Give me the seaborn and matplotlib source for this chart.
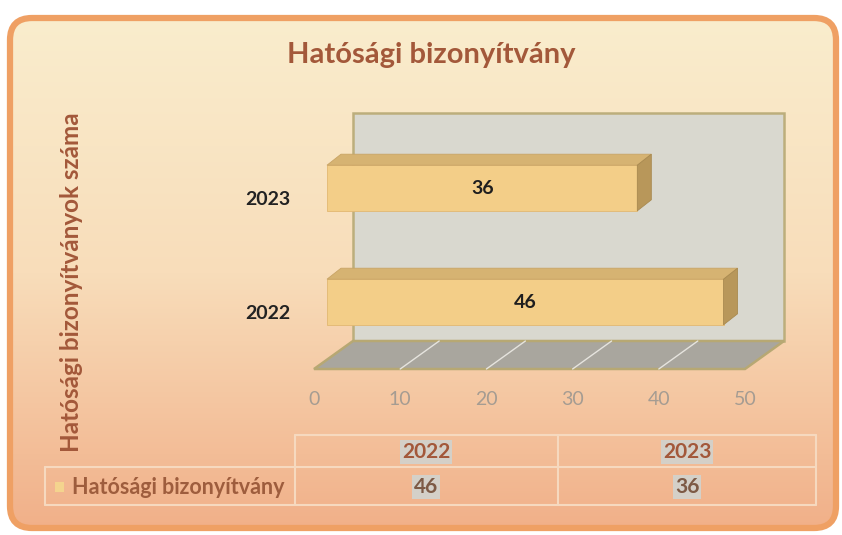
import numpy as np
import pandas as pd
import matplotlib
matplotlib.use("Agg")
import matplotlib.pyplot as plt
import seaborn as sns
from matplotlib.patches import FancyBboxPatch, Polygon, Rectangle
from matplotlib.colors import LinearSegmentedColormap
from matplotlib.transforms import ScaledTranslation

# data
years = ["2022", "2023"]
counts = [46, 36]
bar_order = ["2023", "2022"]
x_ticks = [0, 10, 20, 30, 40, 50]
title = "Hatósági bizonyítvány"
series_name = "Hatósági bizonyítvány"
y_title = "Hatósági bizonyítványok száma"

sns.set_theme(style="white")
plt.rcParams['font.family'] = ['Lato', 'DejaVu Sans']

W, H = 842, 535
fig = plt.figure(figsize=(W / 100, H / 100), dpi=100, facecolor="white")

def shift(px, py):
    return ScaledTranslation(px / fig.dpi, py / fig.dpi, fig.dpi_scale_trans)

# background frame with gradient (pixel coordinates)
bg = fig.add_axes([0, 0, 1, 1])
bg.set_xlim(0, W)
bg.set_ylim(H, 0)
bg.axis("off")
frame = FancyBboxPatch((10, 18), 826, 510, boxstyle="round,pad=0,rounding_size=22",
                       facecolor="none", edgecolor="#EFA064", lw=4.5, zorder=2)
bg.add_patch(frame)
cmap = LinearSegmentedColormap.from_list("bg", ["#FAEDCD", "#F8DDBA", "#F1B089"])
grad = np.linspace(0, 1, 256).reshape(-1, 1)
im = bg.imshow(grad, extent=[10, 836, 528, 18], cmap=cmap, aspect="auto", zorder=1)
im.set_clip_path(frame)

# main chart
ax = fig.add_axes([314 / W, (H - 369) / H, 431 / W, 228 / H])
ax.patch.set_alpha(0)
df = pd.DataFrame({"year": years, "count": counts})
sns.barplot(data=df, x="count", y="year", order=bar_order, orient="h", width=0.4,
            color="#F3CE88", saturation=1, edgecolor="#E2B872", linewidth=0.6, ax=ax)
bars = list(ax.patches)
ax.set_xlim(0, 50)
ax.set_ylim(1.5, -0.5)
ax.set_xticks(x_ticks)
ax.set_xlabel("")
ax.set_ylabel("")
ax.grid(False)
sns.despine(ax=ax, left=True, bottom=True)
ax.tick_params(axis="both", length=0, labelsize=14)
ax.tick_params(axis="y", pad=17, labelcolor="#222222")
ax.tick_params(axis="x", pad=16, labelcolor="#A59C92")
for t in ax.get_yticklabels():
    t.set_fontweight("bold")

ppx = ax.bbox.width / 50
ppy = ax.bbox.height / 2
dxa = 39 / ax.bbox.width
dya = 28 / ax.bbox.height

# back wall and floor
ax.add_patch(Rectangle((0, 0), 1, 1, transform=ax.transAxes + shift(39, 28),
                       facecolor="#D9D8CF", edgecolor="#BCAE7C", lw=1.8, zorder=0.2, clip_on=False))
ax.add_patch(Polygon([(0, 0), (1, 0), (1 + dxa, dya), (dxa, dya)], closed=True,
                     transform=ax.transAxes, facecolor="#A9A69E", edgecolor="#B7A873",
                     lw=1.8, zorder=0.3, clip_on=False))
for t in x_ticks[1:-1]:
    ax.plot([t / 50, t / 50 + dxa], [0, dya], transform=ax.transAxes, color="#E6E4DE",
            lw=1, zorder=0.4, clip_on=False)

# 3d bars
off = ax.transData + shift(13, 10)
ddx = 14 / ppx
ddy = -11 / ppy
for p in bars:
    p.set_transform(off)
    p.set_zorder(3)
    x0, w = p.get_x(), p.get_width()
    yt = p.get_y()
    yb = yt + p.get_height()
    ax.add_patch(Polygon([(x0, yt), (x0 + w, yt), (x0 + w + ddx, yt + ddy), (x0 + ddx, yt + ddy)],
                         closed=True, transform=off, facecolor="#D6B372", edgecolor="#C9A465",
                         lw=0.6, zorder=3, clip_on=False))
    ax.add_patch(Polygon([(x0 + w, yt), (x0 + w, yb), (x0 + w + ddx, yb + ddy), (x0 + w + ddx, yt + ddy)],
                         closed=True, transform=off, facecolor="#B8975A", edgecolor="#A98A50",
                         lw=0.6, zorder=3, clip_on=False))
    ax.text(x0 + w / 2, (yt + yb) / 2, f"{w:.0f}", transform=off, ha="center", va="center",
            fontsize=14, fontweight="bold", color="#1E1E1E", zorder=5)

# titles
fig.text(431 / W, 1 - 55 / H, title, ha="center", va="center", fontsize=21,
         fontweight="bold", color="#A3583A")
fig.text(72 / W, 1 - 282 / H, y_title, ha="center", va="center", rotation=90,
         fontsize=17.5, fontweight="bold", color="#A3583A")

# data table
line_c = "#F6D9BF"
bg.plot([295, 816], [435, 435], color=line_c, lw=1.5, zorder=3)
bg.plot([45, 816], [467, 467], color=line_c, lw=1.5, zorder=3)
bg.plot([45, 816], [505, 505], color=line_c, lw=1.5, zorder=3)
for xv, y0 in [(45, 467), (295, 435), (558, 435), (816, 435)]:
    bg.plot([xv, xv], [y0, 505], color=line_c, lw=1.5, zorder=3)
col_x = {"2022": 426, "2023": 687}
for yr, c in zip(years, counts):
    bg.text(col_x[yr], 452, yr, ha="center", va="center", fontsize=15, fontweight="bold",
            color="#A3583A", zorder=4,
            bbox=dict(boxstyle="square,pad=0.08", fc="#D4D0C8", ec="none"))
    bg.text(col_x[yr], 487, str(c), ha="center", va="center", fontsize=15, fontweight="bold",
            color="#7D5A45", zorder=4,
            bbox=dict(boxstyle="square,pad=0.08", fc="#D4D0C8", ec="none"))
bg.add_patch(Rectangle((55, 482), 9, 10, facecolor="#F4D48E", edgecolor="none", zorder=3))
bg.text(72, 487, series_name, ha="left", va="center", fontsize=15.5, fontweight="bold",
        color="#9E5D3D", zorder=4)

fig.savefig("out.png", dpi=100, facecolor="white")
